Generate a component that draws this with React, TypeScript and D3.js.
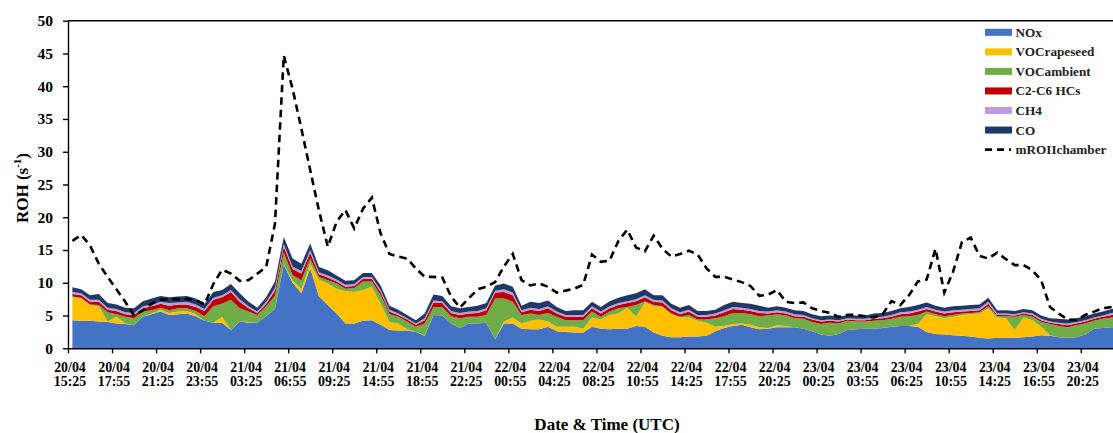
import React, { useRef, useEffect } from 'react';
import * as d3 from 'd3';

const tickDates = ['20/04','20/04','20/04','20/04','21/04','21/04','21/04','21/04','21/04','21/04','22/04','22/04','22/04','22/04','22/04','22/04','22/04','23/04','23/04','23/04','23/04','23/04','23/04','23/04'];
const tickTimes = ['15:25','17:55','21:25','23:55','03:25','06:55','09:25','14:55','18:55','22:25','00:55','04:25','08:25','10:55','14:25','17:55','20:25','00:25','03:55','06:25','10:55','14:25','16:55','20:25'];

const nox = [
  4.3,4.2,4.2,4.1,4.0,3.8,3.7,3.5,4.8,5.2,
  5.6,5.1,5.2,5.3,4.9,4.2,3.9,3.9,2.8,4.1,
  3.9,3.9,4.9,6.0,12.8,10.0,8.4,12.2,7.9,6.6,
  5.3,3.8,3.8,4.2,4.3,3.6,2.8,2.7,2.7,2.5,
  1.9,5.1,5.0,3.8,3.1,3.8,3.8,3.9,1.4,3.8,
  3.8,3.0,2.9,2.9,3.3,2.6,2.5,2.4,2.4,3.3,
  3.0,2.9,3.0,3.0,3.4,3.3,2.4,1.9,1.7,1.7,
  1.8,1.8,1.9,2.6,3.1,3.4,3.6,3.2,2.9,3.0,
  3.2,3.2,3.2,3.0,2.6,2.1,1.9,2.2,2.8,2.9,
  3.0,3.0,3.1,3.3,3.4,3.4,3.3,2.5,2.2,2.1,
  2.0,1.9,1.8,1.6,1.5,1.6,1.6,1.6,1.7,1.8,
  2.0,1.9,1.7,1.6,1.7,2.1,3.0,3.1,3.2,3.3,
];
const vocRapeseed = [
  3.5,3.4,2.4,2.3,0.1,1.0,0.1,0.0,0.0,0.1,
  0.3,0.3,0.4,0.4,0.3,0.0,0.0,0.9,0.0,0.0,
  0.1,0.0,0.0,0.0,0.0,0.4,0.6,0.7,2.6,3.3,
  3.8,4.9,4.8,4.7,5.1,3.2,1.2,1.1,0.2,0.0,
  0.1,0.0,0.0,0.0,0.0,0.0,0.0,0.0,0.0,0.3,
  0.9,0.8,1.3,1.5,0.8,0.7,0.8,0.9,0.6,1.4,
  1.4,2.2,2.3,3.2,1.4,3.7,4.1,4.4,3.5,3.0,
  2.9,2.4,2.0,0.7,0.3,0.3,0.2,0.4,0.3,0.1,
  0.3,0.2,0.0,0.0,0.0,0.0,0.0,0.0,0.0,0.0,
  0.0,0.0,0.0,0.0,0.0,0.0,0.4,2.7,2.7,2.5,
  2.8,3.2,3.4,3.7,4.6,3.1,3.0,1.2,3.0,2.5,
  1.3,0.1,0.0,0.0,0.0,0.0,0.0,0.0,0.0,0.0,
];
const vocAmbient = [
  0.1,0.1,0.1,0.2,1.4,0.4,1.0,1.1,0.8,0.5,
  0.3,0.4,0.5,0.4,0.5,0.7,2.5,2.0,4.6,2.0,
  1.6,1.2,1.5,2.0,1.8,0.8,1.4,0.8,0.4,0.5,
  0.8,0.4,0.6,1.3,0.8,1.3,1.2,1.0,1.2,0.8,
  1.8,1.2,1.3,1.1,1.5,1.0,1.0,1.2,6.2,3.5,
  2.4,1.3,1.1,0.7,1.3,1.5,1.0,1.0,1.3,0.9,
  0.4,0.5,0.8,0.1,1.8,0.2,0.1,0.1,0.1,0.1,
  0.4,0.2,0.5,1.3,1.5,1.7,1.6,1.6,1.7,1.9,
  1.7,1.6,1.4,1.5,1.4,1.6,2.0,1.6,1.4,1.2,
  1.1,1.2,1.2,1.2,1.4,1.5,1.4,0.4,0.3,0.3,
  0.3,0.2,0.2,0.2,0.3,0.2,0.3,2.0,0.4,0.5,
  0.7,1.7,1.7,1.6,1.8,1.7,1.2,1.4,1.5,1.5,
];
const c2c6 = [
  0.4,0.4,0.4,0.5,0.4,0.5,0.4,0.5,0.5,0.6,
  0.6,0.7,0.6,0.6,0.6,0.8,1.0,1.0,1.2,1.0,
  0.5,0.3,0.4,0.8,0.9,0.9,1.0,0.9,0.4,0.4,
  0.3,0.3,0.3,0.4,0.4,0.5,0.4,0.3,0.3,0.3,
  0.5,0.7,0.6,0.5,0.5,0.5,0.6,0.7,0.9,1.0,
  1.0,0.4,0.6,0.6,0.7,0.5,0.5,0.5,0.5,0.5,
  0.5,0.5,0.5,0.6,0.6,0.6,0.5,0.6,0.5,0.4,
  0.5,0.4,0.4,0.4,0.6,0.6,0.5,0.5,0.5,0.3,
  0.3,0.3,0.3,0.3,0.4,0.4,0.3,0.3,0.2,0.2,
  0.2,0.3,0.3,0.3,0.4,0.4,0.5,0.4,0.4,0.4,
  0.4,0.3,0.3,0.3,0.4,0.2,0.2,0.2,0.2,0.3,
  0.3,0.2,0.3,0.3,0.3,0.3,0.3,0.3,0.4,0.4,
];
const ch4 = [
  0.3,0.3,0.3,0.3,0.3,0.3,0.3,0.3,0.3,0.3,
  0.3,0.4,0.3,0.4,0.4,0.3,0.3,0.3,0.3,0.4,
  0.3,0.2,0.3,0.4,0.4,0.4,0.4,0.4,0.3,0.3,
  0.3,0.3,0.3,0.3,0.3,0.3,0.3,0.2,0.2,0.2,
  0.3,0.3,0.3,0.3,0.3,0.3,0.3,0.3,0.3,0.4,
  0.4,0.3,0.3,0.3,0.3,0.3,0.3,0.3,0.3,0.3,
  0.3,0.3,0.3,0.3,0.3,0.3,0.3,0.3,0.3,0.3,
  0.3,0.3,0.3,0.3,0.3,0.3,0.3,0.3,0.3,0.3,
  0.3,0.3,0.3,0.3,0.2,0.2,0.2,0.2,0.2,0.2,
  0.2,0.2,0.2,0.3,0.3,0.3,0.3,0.3,0.3,0.3,
  0.3,0.3,0.3,0.3,0.3,0.2,0.2,0.2,0.2,0.2,
  0.2,0.2,0.2,0.3,0.2,0.2,0.2,0.2,0.3,0.3,
];
const co = [
  0.7,0.6,0.7,0.9,0.7,0.7,0.7,0.7,0.8,0.9,
  0.9,0.9,0.9,0.9,0.9,0.8,0.9,0.8,0.9,0.9,
  0.7,0.6,0.7,1.0,1.1,1.2,1.1,1.0,0.8,0.8,
  0.6,0.6,0.6,0.6,0.6,0.7,0.6,0.6,0.5,0.5,
  0.7,0.9,0.8,0.7,0.7,0.7,0.8,0.8,0.8,0.9,
  0.9,0.7,0.9,0.9,0.9,0.7,0.6,0.7,0.7,0.7,
  0.7,0.8,0.8,0.9,0.9,0.9,0.7,0.8,0.7,0.7,
  0.7,0.6,0.6,0.6,0.8,0.8,0.7,0.8,0.8,0.6,
  0.6,0.6,0.6,0.6,0.6,0.6,0.6,0.5,0.5,0.5,
  0.5,0.6,0.6,0.6,0.6,0.7,0.7,0.7,0.6,0.6,
  0.6,0.6,0.6,0.6,0.6,0.5,0.5,0.5,0.5,0.5,
  0.5,0.5,0.6,0.6,0.6,0.6,0.6,0.6,0.6,0.7,
];
const mROHchamber = [
  16.4,17.3,15.7,12.9,10.9,9.0,7.1,5.0,5.8,6.8,
  7.4,7.5,7.5,7.5,7.4,6.7,9.8,12.0,11.4,10.3,
  10.4,11.4,12.4,19.0,44.7,39.6,33.5,27.2,21.0,15.5,
  19.3,21.1,18.3,21.3,23.0,17.5,14.4,14.0,13.7,12.2,
  10.9,10.9,10.8,7.9,6.2,7.6,9.0,9.4,10.1,12.5,
  14.4,10.4,9.6,9.9,9.4,8.5,8.8,9.1,9.7,14.3,
  13.2,13.4,16.4,18.1,15.4,14.8,17.2,15.2,14.0,14.4,
  14.9,14.3,12.2,10.9,10.9,10.5,10.1,9.5,8.0,8.2,
  8.9,7.1,6.9,7.0,6.1,5.7,5.4,4.8,5.1,5.1,
  4.9,4.7,5.2,7.2,6.6,8.1,10.2,10.5,15.2,8.5,
  11.7,16.2,16.9,14.1,13.7,14.6,13.6,12.7,12.7,11.9,
  10.4,6.3,5.3,4.4,4.3,5.1,5.6,6.1,6.3,6.5,
];

const seriesNames = ['NOx', 'VOCrapeseed', 'VOCambient', 'C2-C6 HCs', 'CH4', 'CO'];
const seriesColors = ['#4472C4', '#FFC000', '#70AD47', '#C00000', '#C09AE0', '#1F3864'];
const lineName = 'mROIIchamber';

const FONT = "'Liberation Serif', 'Times New Roman', serif";

export default function App() {
  const ref = useRef<SVGSVGElement>(null);

  useEffect(() => {
    const svg = d3.select(ref.current);
    svg.selectAll('*').remove();

    const n = nox.length;
    const left = 68;
    const catW = 8.807;
    const x = d3.scaleLinear().domain([0, n]).range([left, left + n * catW]);
    const y = d3.scaleLinear().domain([0, 50]).range([348.3, 20.7]);

    const cols = [nox, vocRapeseed, vocAmbient, c2c6, ch4, co];
    const rows = d3.range(n).map((i) => {
      const r: any = { i };
      seriesNames.forEach((k, j) => { r[k] = cols[j][i]; });
      return r;
    });
    const stacked = d3.stack().keys(seriesNames)(rows as any);

    const area = d3.area<any>()
      .x((d: any) => x(d.data.i + 0.5))
      .y0((d: any) => y(d[0]))
      .y1((d: any) => y(d[1]));

    const g = svg.append('g');
    g.selectAll('path.layer')
      .data(stacked)
      .join('path')
      .attr('class', 'layer')
      .attr('d', area as any)
      .attr('fill', (_d: any, j: number) => seriesColors[j])
      .attr('stroke', 'none');

    const line = d3.line<number>()
      .x((_d, i) => x(i + 0.5))
      .y((d) => y(d));
    g.append('path')
      .attr('d', line(mROHchamber))
      .attr('fill', 'none')
      .attr('stroke', '#000')
      .attr('stroke-width', 2.6)
      .attr('stroke-dasharray', '7.5,5');

    // Y axis
    const yAxis = d3.axisLeft(y).tickValues(d3.range(0, 51, 5)).tickSizeInner(5).tickSizeOuter(0).tickPadding(10);
    const ya = svg.append('g').attr('transform', `translate(${left},0)`).call(yAxis as any);
    ya.selectAll('path, line').attr('stroke', '#000').attr('stroke-width', 1.4);
    ya.selectAll('text').attr('font-family', FONT).attr('font-weight', 'bold').attr('font-size', 15.5).attr('fill', '#000');

    // X axis
    const tickIdx = d3.range(0, n + 1, 5);
    const xAxis = d3.axisBottom(x).tickValues(tickIdx).tickSizeInner(5).tickSizeOuter(0).tickFormat(() => '');
    const xa = svg.append('g').attr('transform', `translate(0,${y(0)})`).call(xAxis as any);
    xa.selectAll('path, line').attr('stroke', '#000').attr('stroke-width', 1.4);

    // top frame
    svg.append('line')
      .attr('x1', left).attr('x2', 1113)
      .attr('y1', y(50)).attr('y2', y(50))
      .attr('stroke', '#000').attr('stroke-width', 1.4);

    // x labels
    const lbl = svg.append('g')
      .attr('font-family', FONT).attr('font-weight', 'bold').attr('font-size', 13.9).attr('fill', '#000')
      .attr('text-anchor', 'middle');
    tickDates.forEach((dStr, k) => {
      const t = lbl.append('text').attr('x', x(k * 5) + 2).attr('y', 372);
      t.append('tspan').attr('x', x(k * 5) + 2).attr('y', 372).text(dStr);
      t.append('tspan').attr('x', x(k * 5) + 2).attr('y', 385.5).text(tickTimes[k]);
    });

    // axis titles
    svg.append('text')
      .attr('x', 607).attr('y', 430)
      .attr('text-anchor', 'middle')
      .attr('font-family', FONT).attr('font-weight', 'bold').attr('font-size', 17)
      .text('Date & Time (UTC)');

    const yt = svg.append('text')
      .attr('transform', 'translate(28,188) rotate(-90)')
      .attr('text-anchor', 'middle')
      .attr('font-family', FONT).attr('font-weight', 'bold').attr('font-size', 17);
    yt.append('tspan').text('ROH (s');
    yt.append('tspan').attr('font-size', 11).attr('dy', -7).text('-1');
    yt.append('tspan').attr('dy', 7).text(')');

    // legend
    const lg = svg.append('g');
    const ly0 = 32.3;
    const lstep = 19.55;
    seriesNames.forEach((name, j) => {
      const yy = ly0 + j * lstep;
      lg.append('rect').attr('x', 985).attr('y', yy - 3.5).attr('width', 27).attr('height', 7)
        .attr('fill', seriesColors[j]);
      lg.append('text').attr('x', 1015.5).attr('y', yy + 4.5)
        .attr('font-family', FONT).attr('font-weight', 'bold').attr('font-size', 13.2).attr('fill', '#222')
        .text(name);
    });
    const yl = ly0 + 6 * lstep;
    lg.append('line').attr('x1', 985).attr('x2', 1011).attr('y1', yl).attr('y2', yl)
      .attr('stroke', '#000').attr('stroke-width', 2.6).attr('stroke-dasharray', '7,5');
    lg.append('text').attr('x', 1015.5).attr('y', yl + 4.5)
      .attr('font-family', FONT).attr('font-weight', 'bold').attr('font-size', 13.2).attr('fill', '#222')
      .text(lineName);
  }, []);

  return (
    <svg
      ref={ref}
      width={1113}
      height={433}
      style={{ position: 'absolute', left: 0, top: 0, background: '#fff', display: 'block' }}
    />
  );
}
